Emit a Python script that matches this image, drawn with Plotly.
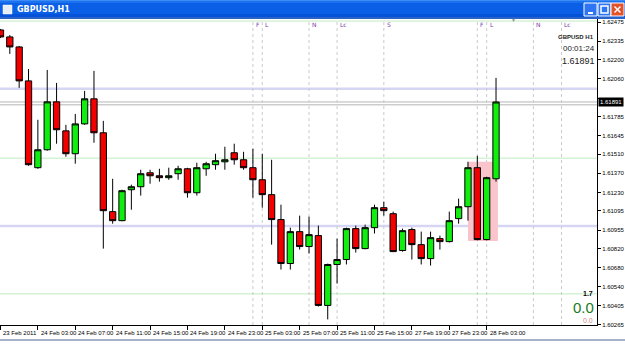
import plotly.graph_objects as go

# ---------------- data ----------------
bar_index = list(range(54))
open_ = [1.62417, 1.62366, 1.62293, 1.62045, 1.61411, 1.61542, 1.61892, 1.61680, 1.61513, 1.61731,
         1.61914, 1.61666, 1.61090, 1.61024, 1.61250, 1.61272, 1.61374, 1.61352, 1.61338, 1.61367,
         1.61403, 1.61228, 1.61403, 1.61433, 1.61454, 1.61520, 1.61469, 1.61411, 1.61323, 1.61214,
         1.61032, 1.60711, 1.60944, 1.60835, 1.60915, 1.60405, 1.60704, 1.60740, 1.60966, 1.60820,
         1.60973, 1.61119, 1.61075, 1.60806, 1.60959, 1.60849, 1.60747, 1.60893, 1.60871, 1.61039,
         1.61126, 1.61411, 1.60886, 1.61330]
high = [1.62424, 1.62380, 1.62300, 1.62132, 1.61761, 1.62125, 1.62030, 1.61724, 1.61804, 1.61972,
        1.62118, 1.61753, 1.61330, 1.61250, 1.61287, 1.61396, 1.61396, 1.61403, 1.61411, 1.61425,
        1.61410, 1.61447, 1.61454, 1.61513, 1.61564, 1.61586, 1.61527, 1.61549, 1.61513, 1.61469,
        1.61141, 1.60973, 1.61061, 1.61053, 1.60988, 1.60710, 1.60893, 1.60973, 1.60988, 1.60995,
        1.61141, 1.61163, 1.61090, 1.60966, 1.60973, 1.60944, 1.60944, 1.60915, 1.61090, 1.61185,
        1.61454, 1.61498, 1.61345, 1.62067]
low = [1.62358, 1.62242, 1.61994, 1.61425, 1.61403, 1.61535, 1.61586, 1.61491, 1.61440, 1.61724,
       1.61593, 1.60820, 1.61002, 1.61020, 1.61104, 1.61207, 1.61294, 1.61309, 1.61323, 1.61323,
       1.61192, 1.61207, 1.61352, 1.61396, 1.61396, 1.61433, 1.61396, 1.61192, 1.61119, 1.60849,
       1.60667, 1.60667, 1.60813, 1.60784, 1.60397, 1.60303, 1.60565, 1.60704, 1.60791, 1.60815,
       1.60930, 1.61061, 1.60795, 1.60798, 1.60740, 1.60704, 1.60696, 1.60813, 1.60865, 1.61002,
       1.61024, 1.60880, 1.60880, 1.61309]
close = [1.62366, 1.62293, 1.62045, 1.61433, 1.61542, 1.61892, 1.61688, 1.61513, 1.61731, 1.61914,
         1.61666, 1.61097, 1.61024, 1.61243, 1.61272, 1.61367, 1.61352, 1.61338, 1.61352, 1.61403,
         1.61228, 1.61411, 1.61440, 1.61462, 1.61469, 1.61469, 1.61411, 1.61323, 1.61214, 1.61032,
         1.60711, 1.60944, 1.60835, 1.60922, 1.60405, 1.60704, 1.60740, 1.60966, 1.60820, 1.60973,
         1.61119, 1.61097, 1.60798, 1.60951, 1.60849, 1.60747, 1.60900, 1.60871, 1.61024, 1.61126,
         1.61411, 1.60886, 1.61338, 1.61891]

time_tick_index = [0, 4, 8, 12, 16, 20, 24, 28, 32, 36, 40, 44, 48, 52]
time_tick_labels = ["23 Feb 2011", "24 Feb 03:00", "24 Feb 07:00", "24 Feb 11:00", "24 Feb 15:00",
                    "24 Feb 19:00", "24 Feb 23:00", "25 Feb 03:00", "25 Feb 07:00", "25 Feb 11:00",
                    "25 Feb 15:00", "27 Feb 19:00", "27 Feb 23:00", "28 Feb 03:00"]

# 1.61920 sits under the bid box on the price scale, so its label is hidden
price_ticks = [1.62475, 1.62335, 1.62200, 1.62060, 1.61920, 1.61785, 1.61645, 1.61510, 1.61370,
               1.61230, 1.61095, 1.60955, 1.60820, 1.60680, 1.60540, 1.60405, 1.60265]
price_tick_labels = ["1.62475", "1.62335", "1.62200", "1.62060", "", "1.61785", "1.61645", "1.61510",
                     "1.61370", "1.61230", "1.61095", "1.60955", "1.60820", "1.60680", "1.60540",
                     "1.60405", "1.60265"]

event_index = [27, 28, 33, 36, 41, 51, 52, 57, 60]
event_labels = ["F", "L", "N", "Lc", "S", "F", "L", "N", "Lc"]

green_levels = [1.62482, 1.61480, 1.60490]
blue_levels = [1.61988, 1.60986]
grey_levels = [1.61891, 1.61870]

zone_index = [50.0, 53.2]
zone_price = [1.60875, 1.61454]

symbol = "GBPUSD,H1"
bid_price = 1.61891
timer_text = "00:01:24"

# ---------------- layout helpers ----------------
W, H = 625, 346
ML, MR, MT, MB = 0, 28, 19, 21
PW, PH = W - ML - MR, H - MT - MB

def px_x(x):
    return (x - ML) / PW

def px_y(y):
    return (H - MB - y) / PH

RED = "#f20000"
GREEN = "#10ee10"

fig = go.Figure()
fig.add_trace(go.Candlestick(
    x=bar_index, open=open_, high=high, low=low, close=close,
    increasing=dict(fillcolor=GREEN, line=dict(color="#000000", width=1)),
    decreasing=dict(fillcolor=RED, line=dict(color="#000000", width=1)),
    whiskerwidth=0, hoverinfo="skip", showlegend=False,
))

shapes = []
for lv in green_levels:
    shapes.append(dict(type="line", xref="paper", yref="y", x0=0, x1=1, y0=lv, y1=lv,
                       line=dict(color="#d4f2d4", width=1.5), layer="below"))
for lv in blue_levels:
    shapes.append(dict(type="line", xref="paper", yref="y", x0=0, x1=1, y0=lv, y1=lv,
                       line=dict(color="#d6d6f4", width=2.5), layer="below"))
for lv in grey_levels:
    shapes.append(dict(type="line", xref="paper", yref="y", x0=0, x1=1, y0=lv, y1=lv,
                       line=dict(color="#b4b4b4", width=1), layer="below"))
for ei in event_index:
    shapes.append(dict(type="line", xref="x", yref="paper", x0=ei, x1=ei, y0=0, y1=1,
                       line=dict(color="#cacaca", width=1, dash="dot"), layer="below"))
shapes.append(dict(type="rect", xref="x", yref="y", x0=zone_index[0], x1=zone_index[1],
                   y0=zone_price[0], y1=zone_price[1], fillcolor="#fac4cc",
                   line=dict(width=0), layer="below"))

# title bar
bands = [(0, 1, "#3a8cf6"), (1, 3, "#1c72ee"), (3, 14, "#0a5fe6"), (14, 17, "#0452d8"), (17, 19, "#2a62c8")]
for y0, y1, col in bands:
    shapes.append(dict(type="rect", xref="paper", yref="paper", x0=px_x(0), x1=px_x(W),
                       y0=px_y(y1), y1=px_y(y0), fillcolor=col, line=dict(width=0), layer="above"))
shapes.append(dict(type="rect", xref="paper", yref="paper", x0=px_x(3), x1=px_x(12),
                   y0=px_y(14), y1=px_y(5), fillcolor="#e8eef8", line=dict(color="#ffffff", width=0.5)))
for bx, col in [(584, "#2f74f2"), (598, "#2f74f2"), (611, "#e2532c")]:
    shapes.append(dict(type="rect", xref="paper", yref="paper", x0=px_x(bx), x1=px_x(bx + 13),
                       y0=px_y(16), y1=px_y(3), fillcolor=col, line=dict(color="#ffffff", width=1)))
shapes.append(dict(type="line", xref="paper", yref="paper", x0=px_x(588), x1=px_x(593),
                   y0=px_y(13), y1=px_y(13), line=dict(color="#ffffff", width=2)))
shapes.append(dict(type="rect", xref="paper", yref="paper", x0=px_x(601), x1=px_x(608),
                   y0=px_y(13), y1=px_y(6), line=dict(color="#ffffff", width=1.5)))
shapes.append(dict(type="line", xref="paper", yref="paper", x0=px_x(614.5), x1=px_x(620.5),
                   y0=px_y(6.5), y1=px_y(12.5), line=dict(color="#ffffff", width=1.5)))
shapes.append(dict(type="line", xref="paper", yref="paper", x0=px_x(614.5), x1=px_x(620.5),
                   y0=px_y(12.5), y1=px_y(6.5), line=dict(color="#ffffff", width=1.5)))
shapes.append(dict(type="line", xref="paper", yref="paper", x0=px_x(0), x1=px_x(W),
                   y0=px_y(340), y1=px_y(340), line=dict(color="#8a9ab8", width=1.5)))

annotations = []
annotations.append(dict(xref="paper", yref="paper", x=px_x(15), y=px_y(9.5), text="<b>" + symbol + "</b>",
                        showarrow=False, xanchor="left", yanchor="middle",
                        font=dict(family="DejaVu Sans", size=8, color="#ffffff")))
for ei, lab in zip(event_index, event_labels):
    annotations.append(dict(xref="x", yref="paper", x=ei, y=px_y(24), text=lab, showarrow=False,
                            xanchor="left", yanchor="middle", xshift=1,
                            font=dict(family="DejaVu Sans", size=6, color="#7a3cb0")))
annotations.append(dict(xref="paper", yref="paper", x=px_x(513), y=px_y(20.5), text="▼", showarrow=False,
                        xanchor="center", yanchor="middle", font=dict(size=5, color="#909090")))
for ti, lab in zip(time_tick_index, time_tick_labels):
    annotations.append(dict(xref="x", yref="paper", x=ti, y=px_y(333), text=lab, showarrow=False,
                            xanchor="left", yanchor="middle", xshift=1,
                            font=dict(family="Liberation Sans", size=6, color="#000000")))
annotations.append(dict(xref="paper", yref="paper", x=px_x(596), y=px_y(37), text="<b>GBPUSD H1</b>",
                        showarrow=False, xanchor="right", yanchor="middle",
                        font=dict(family="Liberation Sans", size=6, color="#222222")))
annotations.append(dict(xref="paper", yref="paper", x=px_x(597), y=px_y(48), text=timer_text,
                        showarrow=False, xanchor="right", yanchor="middle",
                        font=dict(family="Liberation Sans", size=8, color="#222222")))
annotations.append(dict(xref="paper", yref="paper", x=px_x(597), y=px_y(61), text="%.5f" % bid_price,
                        showarrow=False, xanchor="right", yanchor="middle",
                        font=dict(family="Liberation Sans", size=9, color="#222222")))
annotations.append(dict(xref="paper", yref="paper", x=px_x(595), y=px_y(293), text="<b>1.7</b>",
                        showarrow=False, xanchor="right", yanchor="middle",
                        font=dict(family="Liberation Sans", size=7, color="#000000")))
annotations.append(dict(xref="paper", yref="paper", x=px_x(596), y=px_y(307), text="0.0",
                        showarrow=False, xanchor="right", yanchor="middle",
                        font=dict(family="Liberation Sans", size=15, color="#207a20")))
annotations.append(dict(xref="paper", yref="paper", x=px_x(595), y=px_y(320), text="0.0",
                        showarrow=False, xanchor="right", yanchor="middle",
                        font=dict(family="Liberation Sans", size=7, color="#d08888")))
annotations.append(dict(xref="paper", yref="y", x=px_x(598), y=bid_price, text="%.5f" % bid_price,
                        showarrow=False, xanchor="left", yanchor="middle", bgcolor="#000000",
                        borderpad=1, font=dict(family="Liberation Sans", size=6, color="#ffffff")))

fig.update_layout(
    width=W, height=H,
    margin=dict(l=ML, r=MR, t=MT, b=MB),
    paper_bgcolor="#ffffff", plot_bgcolor="#ffffff",
    boxgap=0.18, boxgroupgap=0.18,
    shapes=shapes, annotations=annotations,
    showlegend=False,
    xaxis=dict(range=[-0.05, 63.8], showgrid=False, zeroline=False, rangeslider=dict(visible=False),
               tickmode="array", tickvals=time_tick_index, ticktext=[""] * len(time_tick_index),
               ticks="outside", ticklen=4, tickcolor="#000000", showline=True, linecolor="#000000",
               linewidth=1),
    yaxis=dict(range=[1.60262, 1.62497], side="right", showgrid=False, zeroline=False,
               tickmode="array", tickvals=price_ticks, ticktext=price_tick_labels,
               ticks="outside", ticklen=3, tickcolor="#000000", showline=True, linecolor="#000000",
               linewidth=1, tickfont=dict(family="Liberation Sans", size=6, color="#000000")),
)

fig.write_html("out.html")
